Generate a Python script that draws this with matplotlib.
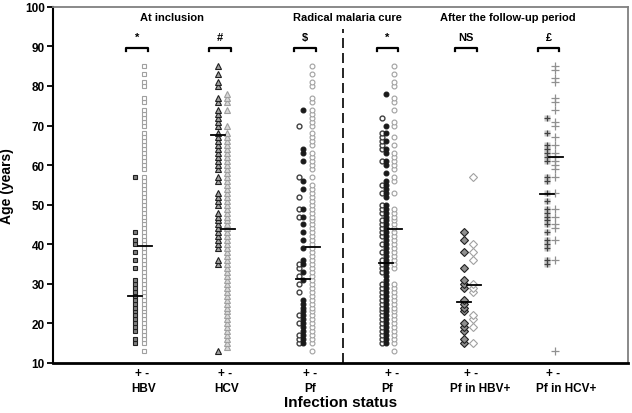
import matplotlib.pyplot as plt
import matplotlib.transforms as mtransforms

plt.rcParams["font.family"] = ["Liberation Sans", "DejaVu Sans"]

# ages, one entry per marker
hbv_pos = [15, 16, 18, 19, 20, 21, 22, 23, 24, 25, 26, 27, 28, 29, 30, 31,
           34, 36, 38, 40, 41, 43, 57]
hbv_neg = [13, 15, 16, 17, 18, 19, 20, 21, 22, 23, 24, 25, 26, 27, 28, 29, 30,
           31, 32, 33, 34, 35, 36, 37, 38, 39, 40, 41, 42, 43, 44, 45, 46, 47,
           48, 49, 50, 51, 52, 53, 54, 55, 56, 57, 59, 60, 61, 62, 63, 64, 65,
           66, 67, 68, 70, 71, 72, 73, 74, 76, 77, 80, 81, 83, 85]
hcv_pos = [13, 35, 36, 39, 40, 41, 42, 43, 44, 45, 46, 47, 48, 50, 51, 52, 53,
           56, 57, 59, 60, 61, 62, 63, 64, 65, 66, 67, 68, 70, 71, 72, 73, 74,
           76, 77, 80, 81, 83, 85]
hcv_neg = [14, 15, 16, 17, 18, 19, 20, 21, 22, 23, 24, 25, 26, 27, 28, 29, 30,
           31, 32, 33, 34, 35, 36, 37, 38, 39, 40, 41, 42, 43, 44, 45, 46, 47,
           48, 49, 50, 51, 52, 53, 54, 55, 56, 57, 58, 59, 60, 61, 62, 63, 64,
           65, 66, 67, 68, 70, 74, 76, 77, 78]
pf_pos_filled = [15, 16, 17, 18, 19, 20, 21, 22, 23, 24, 25, 26, 31, 33, 35,
                 36, 39, 41, 43, 45, 47, 49, 54, 56, 61, 63, 64, 74]
pf_pos_open = [15, 16, 17, 20, 22, 28, 30, 32, 34, 35, 47, 49, 52, 57, 70]
pf_neg = [13, 15, 16, 17, 18, 19, 20, 21, 22, 23, 24, 25, 26, 27, 28, 29, 30,
          31, 32, 33, 34, 35, 36, 37, 38, 39, 40, 41, 42, 43, 44, 45, 46, 47,
          48, 49, 50, 51, 52, 53, 54, 55, 57, 59, 60, 61, 62, 63, 65, 66, 67,
          68, 70, 71, 72, 73, 74, 76, 77, 80, 81, 83, 85]
cure_pos_filled = [15, 16, 17, 18, 19, 20, 21, 22, 23, 24, 25, 26, 27, 28, 29,
                   30, 31, 32, 33, 34, 35, 36, 37, 38, 39, 40, 41, 42, 43, 44,
                   45, 46, 47, 48, 49, 50, 52, 53, 54, 55, 56, 58, 60, 61, 63,
                   64, 66, 68, 70, 78]
cure_pos_open = [15, 16, 17, 18, 19, 20, 21, 22, 23, 24, 25, 26, 27, 28, 29,
                 30, 33, 34, 35, 36, 38, 40, 42, 43, 44, 45, 46, 48, 49, 50,
                 53, 55, 61, 64, 65, 66, 67, 68, 72]
cure_neg = [13, 15, 16, 17, 18, 19, 20, 21, 22, 23, 24, 25, 26, 27, 28, 29, 30,
            34, 35, 36, 37, 38, 39, 40, 41, 42, 43, 44, 45, 46, 47, 48, 49, 53,
            56, 57, 59, 60, 61, 62, 63, 65, 67, 70, 71, 74, 76, 77, 80, 81, 83,
            85]
hbvpf_pos = [15, 16, 18, 19, 20, 23, 24, 25, 26, 29, 30, 31, 34, 38, 41, 43]
hbvpf_neg = [15, 19, 21, 22, 28, 29, 30, 36, 38, 40, 57]
hcvpf_pos = [35, 36, 39, 40, 41, 43, 45, 46, 47, 48, 49, 51, 53, 56, 57, 61,
             62, 63, 64, 65, 68, 72]
hcvpf_neg = [13, 36, 41, 44, 45, 47, 49, 53, 57, 59, 60, 61, 62, 63, 65, 67,
             70, 71, 74, 76, 77, 81, 82, 84, 85]

# central value bars (pos, neg) per group
mean_pos = [26.8, 67.5, 31.2, 35.2, 25.4, 52.7]
mean_neg = [39.6, 43.8, 39.3, 43.8, 29.7, 62.0]

group_labels = ["HBV", "HCV", "Pf", "Pf", "Pf in HBV+", "Pf in HCV+"]
signif = ["*", "#", "$", "*", "NS", "£"]
headers = ["At inclusion", "Radical malaria cure", "After the follow-up period"]

# layout (x in pixel-like data units)
x_pos = [135, 218, 303, 386, 464, 547]
x_neg = [144, 227, 312, 394, 473, 555]
x_name = [144, 227, 310, 387, 480, 566]
header_x = [172, 347, 508]

fig, ax = plt.subplots(figsize=(6.32, 4.14), dpi=100)
fig.subplots_adjust(left=0.084, right=0.994, top=0.981, bottom=0.121)

ms = 3.5
ax.plot([x_pos[0]] * len(hbv_pos), hbv_pos, "s", ms=ms, mfc="#808080",
        mec="#202020", mew=0.8, ls="none")
ax.plot([x_neg[0]] * len(hbv_neg), hbv_neg, "s", ms=ms, mfc="white",
        mec="#a0a0a0", mew=0.8, ls="none")
ax.plot([x_pos[1]] * len(hcv_pos), hcv_pos, "^", ms=4.6, mfc="#a0a0a0",
        mec="#202020", mew=0.8, ls="none")
ax.plot([x_neg[1]] * len(hcv_neg), hcv_neg, "^", ms=4.6, mfc="#d8d8d8",
        mec="#a0a0a0", mew=0.8, ls="none")
ax.plot([x_pos[2] - 4] * len(pf_pos_open), pf_pos_open, "o", ms=ms,
        mfc="white", mec="#404040", mew=1.0, ls="none")
ax.plot([x_pos[2]] * len(pf_pos_filled), pf_pos_filled, "o", ms=ms,
        mfc="#1a1a1a", mec="#1a1a1a", mew=0.8, ls="none")
ax.plot([x_neg[2]] * len(pf_neg), pf_neg, "o", ms=ms, mfc="white",
        mec="#a0a0a0", mew=0.8, ls="none")
ax.plot([x_pos[3] - 4] * len(cure_pos_open), cure_pos_open, "o", ms=ms,
        mfc="white", mec="#404040", mew=1.0, ls="none")
ax.plot([x_pos[3]] * len(cure_pos_filled), cure_pos_filled, "o", ms=ms,
        mfc="#1a1a1a", mec="#1a1a1a", mew=0.8, ls="none")
ax.plot([x_neg[3]] * len(cure_neg), cure_neg, "o", ms=ms, mfc="white",
        mec="#a0a0a0", mew=0.8, ls="none")
ax.plot([x_pos[4]] * len(hbvpf_pos), hbvpf_pos, "D", ms=3.6, mfc="#909090",
        mec="#202020", mew=0.8, ls="none")
ax.plot([x_neg[4]] * len(hbvpf_neg), hbvpf_neg, "D", ms=3.6, mfc="white",
        mec="#a0a0a0", mew=0.8, ls="none")
ax.plot([x_pos[5]] * len(hcvpf_pos), hcvpf_pos, "s", ms=4.4, mfc="#c8c8c8",
        mec="none", ls="none")
ax.plot([x_pos[5]] * len(hcvpf_pos), hcvpf_pos, "+", ms=4.6, mec="#404040",
        mew=0.9, ls="none")
ax.plot([x_neg[5]] * len(hcvpf_neg), hcvpf_neg, "+", ms=5.5, mec="#909090",
        mew=0.9, ls="none")

for xp, xn, mp, mn in zip(x_pos, x_neg, mean_pos, mean_neg):
    ax.plot([xp - 7, xp + 7], [mp, mp], color="black", lw=1.3)
    ax.plot([xn - 6, xn + 8], [mn, mn], color="black", lw=1.3)

# significance brackets
for xp, xn, s in zip(x_pos, x_neg, signif):
    x1, x2 = xp - 9, xn + 4
    ax.plot([x1, x1, x2, x2], [88.9, 89.6, 89.6, 88.9], color="black", lw=1.6)
    ax.text((x1 + x2) / 2, 91.2, s, ha="center", va="bottom",
            fontsize=8, fontweight="bold")

for hx, h in zip(header_x, headers):
    ax.text(hx, 96.2, h, ha="center", va="bottom", fontsize=8,
            fontweight="bold")

ax.plot([343, 343], [10, 94.5], color="black", lw=1.2, ls=(0, (6, 3)))

ax.set_xlim(53, 628)
ax.set_ylim(10, 100)
ax.set_yticks(range(10, 101, 10))
ax.set_xticks([])
for lab in ax.get_yticklabels():
    lab.set_fontweight("bold")
ax.tick_params(axis="y", direction="out", length=4, width=1.3, labelsize=8.5,
               pad=2)
ax.set_ylabel("Age (years)", fontsize=10, fontweight="bold", labelpad=8)

ax.spines["left"].set_linewidth(1.5)
ax.spines["bottom"].set_linewidth(2)
ax.spines["top"].set_color("#808080")
ax.spines["right"].set_color("#808080")
ax.spines["top"].set_linewidth(1.3)
ax.spines["right"].set_linewidth(1.3)

trans = mtransforms.blended_transform_factory(ax.transData, fig.transFigure)
for xp, xn, xl, g in zip(x_pos, x_neg, x_name, group_labels):
    ax.text((xp + xn) / 2 + 2, 1 - 374 / 414, "+ -", transform=trans,
            ha="center", va="center", fontsize=8.5, fontweight="bold")
    ax.text(xl, 1 - 389 / 414, g, transform=trans, ha="center", va="center",
            fontsize=8.5, fontweight="bold")
ax.text(340, 1 - 403 / 414, "Infection status", transform=trans,
        ha="center", va="center", fontsize=11, fontweight="bold")

fig.savefig("out.png", dpi=100)
